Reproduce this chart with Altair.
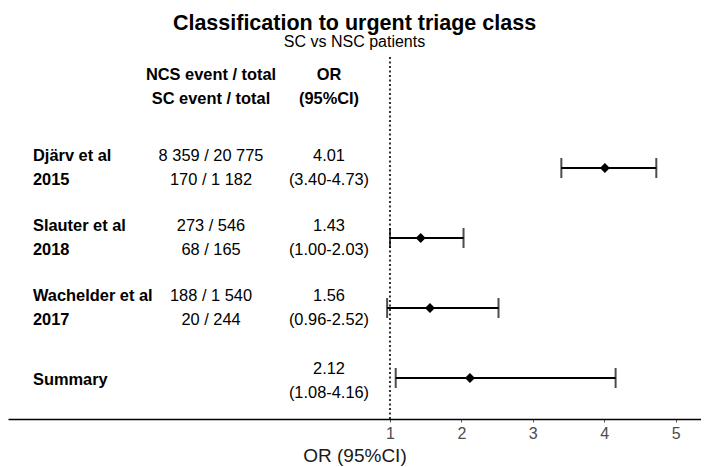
import altair as alt
import pandas as pd

# ---- data ----
study_names = ["Djärv et al", "Slauter et al", "Wachelder et al", "Summary"]
study_years = ["2015", "2018", "2017", ""]
is_summary = [False, False, False, True]
ncs_counts = ["8 359 / 20 775", "273 / 546", "188 / 1 540", ""]
sc_counts = ["170 / 1 182", "68 / 165", "20 / 244", ""]
or_values = [4.01, 1.43, 1.56, 2.12]
ci_lower = [3.40, 1.00, 0.96, 1.08]
ci_upper = [4.73, 2.03, 2.52, 4.16]
header_key = "header"
header_counts = ["NCS event / total", "SC event / total"]
header_or = ["OR", "(95%CI)"]
x_ticks = [1, 2, 3, 4, 5]
reference_or = [1]

rows = pd.DataFrame({
    "row": study_names,
    "summary": is_summary,
    "label": [n if not y else n + "\n" + y for n, y in zip(study_names, study_years)],
    "counts": [a + "\n" + b if a else "" for a, b in zip(ncs_counts, sc_counts)],
    "ortext": [f"{o:.2f}\n({l:.2f}-{h:.2f})" for o, l, h in zip(or_values, ci_lower, ci_upper)],
    "or": or_values,
    "lo": ci_lower,
    "hi": ci_upper,
})
header = pd.DataFrame({
    "row": [header_key],
    "counts": ["\n".join(header_counts)],
    "ortext": ["\n".join(header_or)],
})
ref = pd.DataFrame({"x": reference_or})

FONT = "Liberation Sans"
x_scale = alt.Scale(domain=[-4.35, 5.356], nice=False, zero=False)
x_axis = alt.Axis(values=x_ticks, title="OR (95%CI)", grid=False, domainColor="black",
                  domainWidth=1.5, tickSize=3, tickColor="#555", tickWidth=1,
                  labelFontSize=16, labelColor="#4d4d4d", labelPadding=3,
                  titleFontSize=19, titleFontWeight="normal", titleColor="#1a1a1a",
                  titlePadding=5, labelFont=FONT, titleFont=FONT)
y_enc = alt.Y("row:N", scale=alt.Scale(type="point",
              domain=[header_key] + study_names, padding=0.586), axis=None)


def xq(field):
    return alt.X(field, type="quantitative", scale=x_scale, axis=x_axis)


base = alt.Chart(rows)
studies = base.transform_filter("!datum.summary")
pooled = base.transform_filter("datum.summary")

refline = alt.Chart(ref).mark_rule(strokeDash=[2, 2.5], strokeWidth=2, color="#333").encode(
    x=xq("x"))
ci = base.mark_rule(strokeWidth=2, color="black").encode(
    x=xq("lo"), x2="hi", y=y_enc)
cap_lo = base.mark_tick(orient="vertical", size=20, thickness=2, color="black").encode(
    x=xq("lo"), y=y_enc)
cap_hi = base.mark_tick(orient="vertical", size=20, thickness=2, color="black").encode(
    x=xq("hi"), y=y_enc)
pts = base.mark_point(shape="diamond", filled=True, size=100, color="black", opacity=1).encode(
    x=xq("or"), y=y_enc)

txt_kw = dict(font=FONT, fontSize=16.4, lineHeight=24, lineBreak="\n", color="black", baseline="middle")
lab = studies.mark_text(align="left", fontWeight="bold", dy=-12, **txt_kw).encode(
    x=alt.value(25), y=y_enc, text="label:N")
cnt = studies.mark_text(align="center", dy=-12, **txt_kw).encode(
    x=alt.value(203), y=y_enc, text="counts:N")
ort = studies.mark_text(align="center", dy=-12, **txt_kw).encode(
    x=alt.value(321), y=y_enc, text="ortext:N")
slab = pooled.mark_text(align="left", fontWeight="bold", dy=2, **txt_kw).encode(
    x=alt.value(25), y=y_enc, text="label:N")
sort_ = pooled.mark_text(align="center", dy=-9, **txt_kw).encode(
    x=alt.value(321), y=y_enc, text="ortext:N")
hcnt = alt.Chart(header).mark_text(align="center", fontWeight="bold", dy=-23, **txt_kw).encode(
    x=alt.value(203), y=y_enc, text="counts:N")
hor = alt.Chart(header).mark_text(align="center", fontWeight="bold", dy=-23, **txt_kw).encode(
    x=alt.value(321), y=y_enc, text="ortext:N")

chart = alt.layer(refline, ci, cap_lo, cap_hi, pts, lab, cnt, ort, slab, sort_, hcnt, hor).properties(
    width=693, height=362,
    title=alt.TitleParams("Classification to urgent triage class", subtitle="SC vs NSC patients",
                          font=FONT, fontSize=21.5, fontWeight="bold", color="black",
                          subtitleFont=FONT, subtitleFontSize=16, subtitleColor="black",
                          subtitlePadding=0, anchor="middle", offset=6),
    autosize=alt.AutoSizeParams(type="none"),
    padding={"left": 0, "right": 0, "top": 49, "bottom": 48},
).configure_view(stroke=None)

chart.save("out.html", embed_options={"renderer": "svg", "actions": False})
